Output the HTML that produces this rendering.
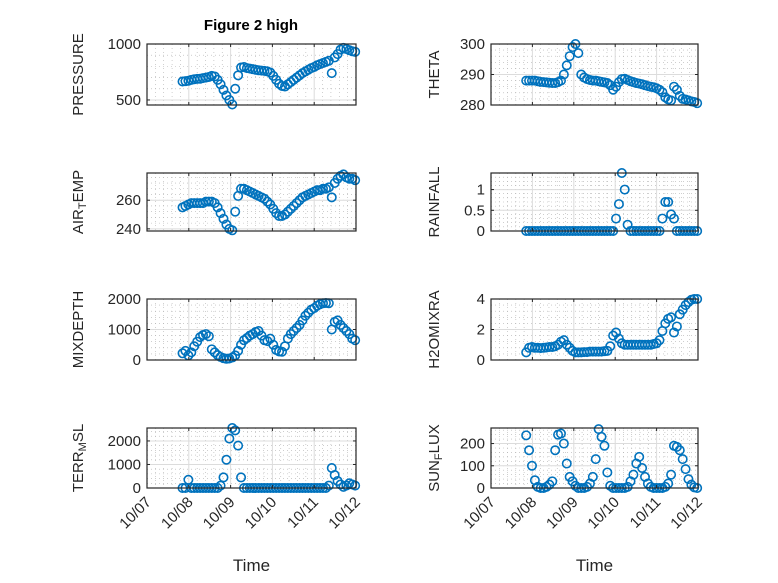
<!DOCTYPE html>
<html><head><meta charset="utf-8"><style>
html,body{margin:0;padding:0;background:#fff;}
svg{display:block;font-family:"Liberation Sans",sans-serif;}
</style></head><body>
<svg id="fig" width="778" height="583" xmlns="http://www.w3.org/2000/svg">
<rect width="778" height="583" fill="#fff"/>
<text x="251" y="30" text-anchor="middle" font-size="15" font-weight="bold" fill="#000">Figure 2 high</text>
</svg>
<script>
const times = [];
for (let i = 0; i < 60; i++) times.push(7.85 + 0.07 * i);
const xTickLabels = ["10/07","10/08","10/09","10/10","10/11","10/12"];
const xTickValues = [7,8,9,10,11,12];
const pressure = [665,668,672,680,685,688,690,695,700,705,715,710,680,640,590,540,500,460,600,720,790,795,785,780,775,770,765,762,760,755,745,715,680,645,625,620,640,660,680,700,720,740,755,770,785,795,810,820,830,840,850,740,880,910,950,965,955,945,935,930];
const theta = [288,288,288,288,287.8,287.6,287.5,287.4,287.3,287.2,287.2,287.5,288,290,293,296,299,300,297,290,289,288.5,288.2,288,288,287.8,287.6,287.4,287.2,286.5,285,286,287.5,288.5,288.6,288.2,287.8,287.5,287.2,287,286.8,286.5,286.2,286,285.8,285.5,285,284.2,282.5,281.8,281.5,286,285,283,282,281.8,281.5,281.2,281,280.6];
const airTemp = [255,256,257,258,258,258,258,258,259,259,259,258,255,251,247,243,240,239,252,263,268,268,267,266,265,264,263,262,261,259,257,254,251,249,249,250,252,254,256,258,260,262,263,264,265,266,267,267,268,268,269,262,272,275,277,278,276,275,275,274];
const rainfall = [0,0,0,0,0,0,0,0,0,0,0,0,0,0,0,0,0,0,0,0,0,0,0,0,0,0,0,0,0,0,0,0.3,0.65,1.4,1.0,0.15,0,0,0,0,0,0,0,0,0,0,0,0.3,0.7,0.7,0.4,0.3,0,0,0,0,0,0,0,0];
const mixDepth = [220,300,150,250,450,600,750,820,850,780,350,250,160,100,60,40,50,80,150,300,500,650,720,800,850,920,950,800,650,620,700,500,330,280,270,450,700,850,950,1050,1150,1300,1450,1550,1650,1700,1780,1830,1860,1870,1860,1000,1250,1300,1150,1050,950,850,700,650];
const h2oMix = [0.5,0.8,0.85,0.8,0.8,0.78,0.8,0.82,0.85,0.85,0.9,1.0,1.2,1.3,1.0,0.8,0.6,0.5,0.5,0.5,0.52,0.52,0.55,0.55,0.55,0.55,0.55,0.58,0.6,0.9,1.6,1.8,1.4,1.1,1.0,1.0,1.0,1.0,1.0,1.0,1.0,1.0,1.0,1.0,1.05,1.1,1.3,1.9,2.4,2.7,2.8,1.8,2.2,3.0,3.3,3.6,3.8,3.95,4.0,4.0];
const terrMSL = [0,0,350,0,0,0,0,0,0,0,0,0,0,100,450,1200,2100,2550,2450,1800,450,0,0,0,0,0,0,0,0,0,0,0,0,0,0,0,0,0,0,0,0,0,0,0,0,0,0,0,0,0,100,850,550,300,150,50,100,200,150,100];
const sunFlux = [237,170,100,35,5,0,0,5,15,30,170,240,245,200,110,50,30,10,0,0,0,5,20,50,130,265,230,190,70,10,0,0,0,0,0,5,30,60,110,140,90,50,20,5,0,0,0,0,5,20,60,190,185,170,130,85,40,15,3,0];

const NS = "http://www.w3.org/2000/svg";
const svg = document.getElementById("fig");
function mk(tag, attrs, parent) {
  const e = document.createElementNS(NS, tag);
  for (const k in attrs) e.setAttribute(k, attrs[k]);
  (parent || svg).appendChild(e);
  return e;
}
const cols = [{x0:147, x1:356}, {x0:491, x1:698}];
const rows = [{y0:44, y1:105}, {y0:173, y1:231}, {y0:299, y1:360}, {y0:428, y1:488}];
const panels = [
  {name:"pressure", data:pressure, col:0,row:0, ylim:[455,1000], yt:[500,1000], minor:100, label:[["PRESSURE"]]},
  {name:"theta", data:theta, col:1,row:0, ylim:[280,300], yt:[280,290,300], minor:2, label:[["THETA"]]},
  {name:"air-temp", data:airTemp, col:0,row:1, ylim:[238.5,279], yt:[240,260], minor:4, label:[["AIR"],["T","sub"],["EMP"]]},
  {name:"rainfall", data:rainfall, col:1,row:1, ylim:[0,1.4], yt:[0,0.5,1], minor:0.1, label:[["RAINFALL"]]},
  {name:"mixdepth", data:mixDepth, col:0,row:2, ylim:[0,2000], yt:[0,1000,2000], minor:200, label:[["MIXDEPTH"]]},
  {name:"h2omixra", data:h2oMix, col:1,row:2, ylim:[0,4], yt:[0,2,4], minor:0.4, label:[["H2OMIXRA"]]},
  {name:"terr-msl", data:terrMSL, col:0,row:3, ylim:[0,2550], yt:[0,1000,2000], minor:200, label:[["TERR"],["M","sub"],["SL"]]},
  {name:"sun-flux", data:sunFlux, col:1,row:3, ylim:[0,270], yt:[0,100,200], minor:20, label:[["SUN"],["F","sub"],["LUX"]]}
];
panels.forEach(p => {
  const c = cols[p.col], r = rows[p.row];
  const g = mk("g", {});
  
  
  const xs = t => c.x0 + (t - 7) / 5 * (c.x1 - c.x0);
  const ys = v => r.y1 - (v - p.ylim[0]) / (p.ylim[1] - p.ylim[0]) * (r.y1 - r.y0);
  for (let t = 7; t < 12; t += 0.2) {
    if (Math.abs(t - Math.round(t)) < 1e-6) continue;
    mk("line", {x1:xs(t), x2:xs(t), y1:r.y0, y2:r.y1, stroke:"#b0b0b0", "stroke-width":0.6, "stroke-dasharray":"1,3"}, g);
  }
  const mstart = Math.ceil(p.ylim[0] / p.minor) * p.minor;
  for (let v = mstart; v < p.ylim[1]; v += p.minor) {
    mk("line", {x1:c.x0, x2:c.x1, y1:ys(v), y2:ys(v), stroke:"#b0b0b0", "stroke-width":0.6, "stroke-dasharray":"1,3"}, g);
  }
  xTickValues.forEach(t => mk("line", {x1:xs(t), x2:xs(t), y1:r.y0, y2:r.y1, stroke:"#dcdcdc", "stroke-width":1}, g));
  p.yt.forEach(v => mk("line", {x1:c.x0, x2:c.x1, y1:ys(v), y2:ys(v), stroke:"#dcdcdc", "stroke-width":1}, g));
  p.data.forEach((v, i) => {
    const m = mk("circle", {cx:xs(times[i]), cy:ys(v), r:4.2, fill:"none", stroke:"#0072BD", "stroke-width":1.6}, g);
    
    
  });
  const box = mk("rect", {x:c.x0, y:r.y0, width:c.x1 - c.x0, height:r.y1 - r.y0, fill:"none", stroke:"#262626", "stroke-width":1.2}, g);
  
  
  xTickValues.forEach(t => {
    mk("line", {x1:xs(t), x2:xs(t), y1:r.y1, y2:r.y1 - 3, stroke:"#262626"}, g);
    mk("line", {x1:xs(t), x2:xs(t), y1:r.y0, y2:r.y0 + 3, stroke:"#262626"}, g);
  });
  p.yt.forEach(v => {
    mk("line", {x1:c.x0, x2:c.x0 + 3, y1:ys(v), y2:ys(v), stroke:"#262626"}, g);
    mk("line", {x1:c.x1, x2:c.x1 - 3, y1:ys(v), y2:ys(v), stroke:"#262626"}, g);
    const tl = mk("text", {x:c.x0 - 6, y:ys(v) + 5, "text-anchor":"end", "font-size":15, fill:"#262626"}, g);
    tl.textContent = String(v);
    
    
  });
  const lx = c.x0 - (p.col === 0 ? 64 : 52);
  const ly = (r.y0 + r.y1) / 2;
  const yl = mk("text", {x:lx, y:ly, "text-anchor":"middle", "font-size":15, fill:"#262626", transform:"rotate(-90 " + lx + " " + ly + ")"}, g);
  
  
  p.label.forEach(part => {
    const ts = mk("tspan", {}, yl);
    ts.textContent = part[0];
    if (part[1] === "sub") { ts.setAttribute("baseline-shift", "-25%"); ts.setAttribute("font-size", "11"); }
  });
  if (p.row === 3) {
    xTickLabels.forEach((lab, k) => {
      const tx = xs(xTickValues[k]) + 5, ty = r.y1 + 15;
      const xl = mk("text", {x:tx, y:ty, "text-anchor":"end", "font-size":15, fill:"#262626", transform:"rotate(-45 " + tx + " " + ty + ")"}, g);
      xl.textContent = lab;
      
      
    });
    const xt = mk("text", {x:(c.x0 + c.x1) / 2, y:571, "text-anchor":"middle", "font-size":17, fill:"#262626"}, g);
    xt.textContent = "Time";
    
    
  }
});
</script>
</body></html>
